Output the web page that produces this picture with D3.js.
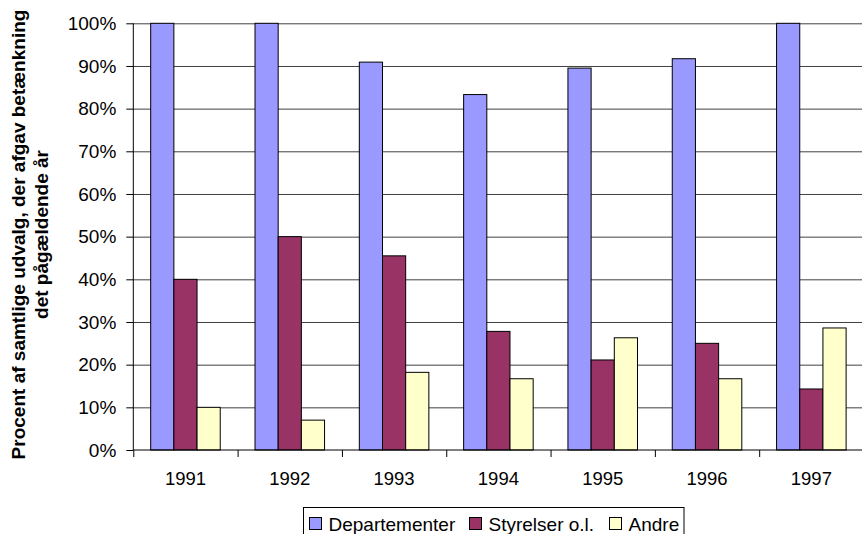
<!DOCTYPE html>
<html><head><meta charset="utf-8">
<script src="https://cdn.jsdelivr.net/npm/d3@7"></script>
<style>body{margin:0;background:#fff}svg{display:block}text{font-family:Arial,"Liberation Sans",sans-serif}</style>
</head><body><svg id="c" width="862" height="534"></svg>
<script>
const years = ["1991","1992","1993","1994","1995","1996","1997"];
const seriesNames = ["Departementer","Styrelser o.l.","Andre"];
const departementer = [100, 100, 90.9, 83.3, 89.5, 91.7, 100];
const styrelser = [40, 50, 45.5, 27.8, 21.1, 25, 14.3];
const andre = [10, 7, 18.2, 16.7, 26.3, 16.7, 28.6];
const colors = ["#9999FF","#993366","#FFFFCC"];
const yTicks = [0,10,20,30,40,50,60,70,80,90,100];

const series = [departementer, styrelser, andre];
const svg = d3.select("#c");
const L = 133.3, R = 863.5, T = 23.3, B = 450;
const FONT = "Arial, 'Liberation Sans', sans-serif";

const x = d3.scaleBand().domain(years).range([L, R]).paddingInner(0).paddingOuter(0);
const y = d3.scaleLinear().domain([0,100]).range([B, T]);
const barW = x.bandwidth() / 4.5;

// gridlines
svg.append("g").selectAll("line").data(yTicks.filter(d=>d>0)).join("line")
  .attr("x1", L).attr("x2", R).attr("y1", d=>y(d)+0.5).attr("y2", d=>y(d)+0.5)
  .attr("stroke", "#404040").attr("stroke-width", 1);

// bars
series.forEach((vals, si) => {
  svg.append("g").selectAll("rect").data(vals).join("rect")
    .attr("x", (d,i) => x(years[i]) + barW*0.75 + si*barW)
    .attr("y", d => y(d))
    .attr("width", barW)
    .attr("height", d => B - y(d))
    .attr("fill", colors[si])
    .attr("stroke", "#000").attr("stroke-width", 1);
});

// y axis
const yAxis = d3.axisLeft(y).tickValues(yTicks).tickFormat(d => d + "%").tickSize(7).tickPadding(10);
const gy = svg.append("g").attr("transform", `translate(${L},0)`).call(yAxis);
gy.selectAll("text").attr("font-size", 19).attr("fill", "#000").attr("font-family", FONT);
gy.selectAll("line,path").attr("stroke", "#000");
gy.select(".domain").attr("d", `M0,${T}V${B}`);

// x axis
const xAxis = d3.axisBottom(x).tickSize(0).tickPadding(22);
const gx = svg.append("g").attr("transform", `translate(0,${B})`).call(xAxis);
gx.select(".domain").attr("d", `M${L},0H${R}`).attr("stroke","#000");
gx.selectAll("text").attr("font-size", 18.5).attr("fill", "#000").attr("font-family", FONT);
svg.append("g").selectAll("line").data(years).join("line")
  .attr("x1", d => x(d)+0.5).attr("x2", d => x(d)+0.5).attr("y1", B).attr("y2", B+7)
  .attr("stroke", "#000");

// y title
const yt = svg.append("text").attr("transform", "translate(25,234.5) rotate(-90)")
  .attr("text-anchor","middle").attr("font-weight","bold").attr("font-size",19).attr("fill","#000");
yt.append("tspan").attr("x",0).attr("dy",0).text("Procent af samtlige udvalg, der afgav betænkning");
yt.append("tspan").attr("x",0).attr("dy",23).text("det pågældende år");

// legend
const lg = svg.append("g");
lg.append("rect").attr("x",303.5).attr("y",507.5).attr("width",380.5).attr("height",40)
  .attr("fill","#fff").attr("stroke","#000");
const itemX = [309, 469, 609];
seriesNames.forEach((n,i) => {
  lg.append("rect").attr("x", itemX[i]+0.5).attr("y", 517.5).attr("width", 12).attr("height", 12)
    .attr("fill", colors[i]).attr("stroke","#000");
  lg.append("text").attr("x", itemX[i]+19.5).attr("y", 531).attr("font-size",19).attr("fill","#000").text(n);
});
</script></body></html>
